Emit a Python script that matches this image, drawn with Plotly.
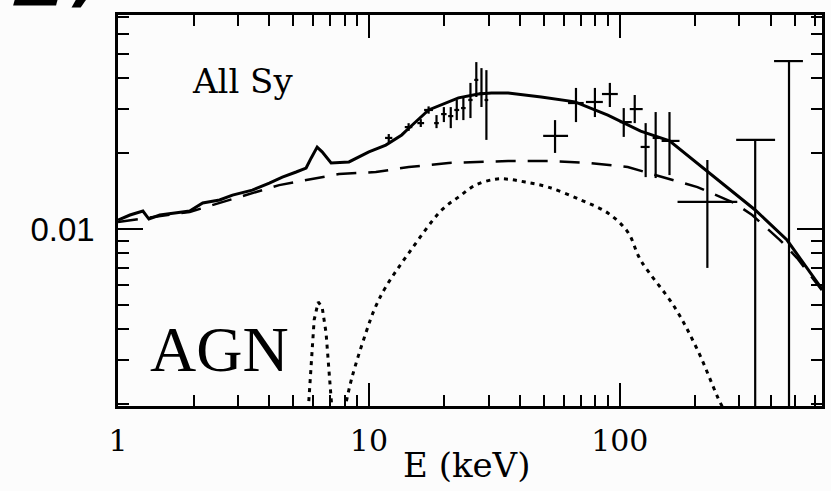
import plotly.graph_objects as go

# ---- data ----
# total model / low-energy data histogram (solid)
total_E = [1.00, 1.116, 1.257, 1.328, 1.468, 1.714, 1.931, 2.175, 2.54, 2.86, 3.43, 4.01, 4.52, 5.13,
           5.62, 5.89, 6.22, 6.51, 7.07, 8.33, 10.0, 11.68, 13.52, 14.42, 17.3, 22.75, 27.3, 30.8,
           35.9, 48.6, 66.3, 89.6, 121.1, 157.8, 223.4, 286, 346.5, 464, 639]
total_F = [0.01086, 0.01137, 0.0118, 0.01096, 0.01137, 0.01158, 0.0118, 0.0127, 0.01305, 0.01365,
           0.01429, 0.01525, 0.0161, 0.01687, 0.0175, 0.0192, 0.0212, 0.0203, 0.01833, 0.0185,
           0.0203, 0.0216, 0.0237, 0.0252, 0.0298, 0.0333, 0.0345, 0.0348, 0.0348, 0.0336,
           0.0321, 0.0284, 0.02455, 0.02244, 0.01702, 0.0139, 0.01191, 0.00904, 0.00577]

# power-law continuum (dashed)
cont_E = [1.0, 1.931, 4.39, 5.37, 7.60, 10.66, 14.42, 20.77, 35.9, 51.8, 74.6, 107.6, 148.2,
          204, 286, 337, 435, 509, 639]
cont_F = [0.01066, 0.0117, 0.01496, 0.01553, 0.01656, 0.01687, 0.01766, 0.01833, 0.01866,
          0.01866, 0.01833, 0.01766, 0.0161, 0.01469, 0.0127, 0.01137, 0.00904, 0.00766, 0.00571]

# iron line (dotted)
fe_E = [5.73, 5.78, 5.89, 6.05, 6.28, 6.51, 6.75, 6.94, 7.07, 7.13]
fe_F = [0.0019, 0.00214, 0.00282, 0.00434, 0.00512, 0.00489, 0.00386, 0.00267, 0.00214, 0.0019]

# reflection hump (dotted)
refl_E = [8.0, 8.55, 9.73, 10.6, 11.68, 14.42, 19.5, 22.75, 26.6, 31.9, 35.9, 42.0, 51.8, 70.0,
          89.6, 107.6, 121.1, 165.3, 204, 251.6, 262]
refl_F = [0.0019, 0.00255, 0.00386, 0.00487, 0.00588, 0.00802, 0.0119, 0.0134, 0.01496, 0.0158,
          0.0158, 0.01538, 0.01469, 0.01305, 0.01158, 0.00973, 0.00752, 0.00489, 0.0033,
          0.00203, 0.0019]

# data points with error bars
pts_E = [12.0, 14.4, 16.1, 17.3, 18.6, 19.9, 21.2, 22.4, 23.8, 25.4, 26.8, 28.1, 29.4,
         55.2, 66.9, 79.6, 91.3, 103.7, 114.7, 126.8, 139.0, 157.8, 223.4, 346.5, 472.6]
pts_F = [0.02306, 0.02547, 0.02642, 0.0298, 0.02642, 0.0287, 0.02818, 0.0298, 0.03033, 0.03266,
         0.03926, 0.0348, 0.03266, 0.0235, 0.03176, 0.03207, 0.0345, 0.02667, 0.03005, 0.02123,
         0.02306, 0.02244, 0.01283, 0.02265, 0.04667]
pts_F_hi = [0.0239, 0.0264, 0.0274, 0.0308, 0.02844, 0.0306, 0.0306, 0.03266, 0.03357, 0.0382,
            0.04624, 0.04375, 0.04295, 0.02716, 0.03648, 0.03648, 0.0382, 0.03033, 0.0342,
            0.02642, 0.02924, 0.02924, 0.01884, 0.02265, 0.04667]
pts_F_lo = [0.0222, 0.0246, 0.0255, 0.0288, 0.02523, 0.02667, 0.02523, 0.02716, 0.02716,
            0.02767, 0.03357, 0.03062, 0.02265, 0.0201, 0.02667, 0.02793, 0.03062, 0.02328,
            0.02642, 0.0161, 0.01596, 0.0164, 0.007, 0.0015, 0.0015]
pts_E_lo = [11.6, 13.9, 15.6, 16.6, 18.2, 19.4, 20.7, 21.9, 23.3, 24.9, 26.3, 27.6, 28.9,
            49.5, 62.2, 73.3, 84.9, 100.0, 109.6, 121.1, 135.2, 146.8, 169.9, 291.0, 412.0]
pts_E_hi = [12.4, 14.9, 16.6, 18.0, 19.0, 20.4, 21.7, 22.9, 24.3, 25.9, 27.3, 28.6, 29.9,
            62.2, 71.8, 85.6, 98.2, 111.6, 123.4, 131.5, 144.2, 173.0, 294.0, 415.9, 537.0]

x_tick_font = dict(family="DejaVu Serif", size=30, color="black")
y_tick_font = dict(family="Liberation Sans, Arial", size=33, color="black")

fig = go.Figure()

fig.add_trace(go.Scatter(x=cont_E, y=cont_F, mode="lines",
                         line=dict(color="black", width=2.5, dash="20px,12px"),
                         showlegend=False, hoverinfo="skip"))
fig.add_trace(go.Scatter(x=fe_E, y=fe_F, mode="lines",
                         line=dict(color="black", width=3, dash="4px,5px"),
                         showlegend=False, hoverinfo="skip"))
fig.add_trace(go.Scatter(x=refl_E, y=refl_F, mode="lines",
                         line=dict(color="black", width=3, dash="4px,5px", shape="spline"),
                         showlegend=False, hoverinfo="skip"))
fig.add_trace(go.Scatter(x=total_E, y=total_F, mode="lines",
                         line=dict(color="black", width=3),
                         showlegend=False, hoverinfo="skip"))
fig.add_trace(go.Scatter(
    x=pts_E, y=pts_F, mode="markers", marker=dict(size=1, color="black"),
    error_y=dict(type="data", symmetric=False,
                 array=[h - f for h, f in zip(pts_F_hi, pts_F)],
                 arrayminus=[f - l for f, l in zip(pts_F, pts_F_lo)],
                 color="black", thickness=2.2, width=0),
    error_x=dict(type="data", symmetric=False,
                 array=[h - e for h, e in zip(pts_E_hi, pts_E)],
                 arrayminus=[e - l for e, l in zip(pts_E, pts_E_lo)],
                 color="black", thickness=2.2, width=0),
    showlegend=False, hoverinfo="skip"))

axis_common = dict(showline=True, linecolor="black", linewidth=2.5, mirror="allticks",
                   ticks="inside", tickcolor="black", tickwidth=2, showgrid=False,
                   zeroline=False, dtick=1, tick0=0,
                   minor=dict(ticks="inside", ticklen=11, tickwidth=2, tickcolor="black",
                              dtick="D1", showgrid=False))

fig.update_xaxes(type="log", range=[0, 2.806], ticklen=23, tickfont=x_tick_font,
                 ticklabelstandoff=6, **axis_common)
fig.update_yaxes(type="log", range=[-2.705, -1.1474], ticklen=25, tickfont=y_tick_font,
                 ticklabelstandoff=14, **axis_common)

# fragment of a cropped heading visible at the top-left corner of the scan
heading_shapes = [
    dict(type="path", xref="paper", yref="paper",
         path="M -0.1457,1.045 L -0.0850,1.045 L -0.0880,1.024 L -0.1490,1.024 Z",
         fillcolor="black", line=dict(width=0)),
    dict(type="path", xref="paper", yref="paper",
         path="M -0.0580,1.045 L -0.0430,1.045 L -0.0530,1.019 L -0.0660,1.019 Z",
         fillcolor="black", line=dict(width=0)),
]

fig.update_layout(
    width=831, height=491,
    margin=dict(l=118, r=6, t=15, b=85),
    paper_bgcolor="#fcfcfc", plot_bgcolor="#fcfcfc",
    shapes=heading_shapes,
    annotations=[
        dict(text="All Sy", x=0.177, y=0.831, xref="paper", yref="paper",
             xanchor="center", yanchor="middle", showarrow=False,
             font=dict(family="DejaVu Serif", size=34, color="black")),
        dict(text="AGN", x=0.1443, y=0.145, xref="paper", yref="paper",
             xanchor="center", yanchor="middle", showarrow=False,
             font=dict(family="Liberation Serif, Times New Roman", size=64, color="black")),
        dict(text="E (keV)", x=0.495, y=-0.151, xref="paper", yref="paper",
             xanchor="center", yanchor="middle", showarrow=False,
             font=dict(family="DejaVu Serif", size=34, color="black")),
    ],
)

fig.write_html("out.html")
